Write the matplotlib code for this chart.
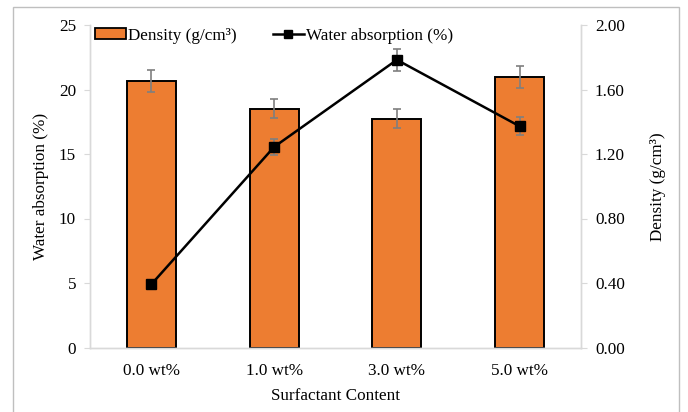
import matplotlib.pyplot as plt
import matplotlib.patches as mpatches
import numpy as np

categories = ['0.0 wt%', '1.0 wt%', '3.0 wt%', '5.0 wt%']
density = [1.65, 1.48, 1.42, 1.68]
density_err = [0.068, 0.058, 0.058, 0.068]
water = [4.9, 15.55, 22.3, 17.15]
water_err = [0.3, 0.63, 0.87, 0.68]

plt.rcParams['font.family'] = ['Liberation Serif', 'DejaVu Serif']
plt.rcParams['font.size'] = 12.3

W, H = 688, 412
fig = plt.figure(figsize=(W / 100, H / 100), dpi=100)
ax = fig.add_axes([90 / W, 1 - 347.5 / H, 491 / W, 322.5 / H])
ax2 = ax.twinx()
x = np.arange(len(categories))

grey = '#d9d9d9'

# density bars (right axis)
ax.bar(x, density, width=0.4, color='#ED7D31', edgecolor='black', linewidth=1.4,
       yerr=density_err, error_kw=dict(ecolor='#7f7f7f', elinewidth=1.2, capsize=3, capthick=1.2),
       label='Density (g/cm³)', zorder=2)
ax.set_ylim(0, 2.0)
ax.set_yticks([0, 0.4, 0.8, 1.2, 1.6, 2.0])
ax.set_yticklabels(['%.2f' % v for v in [0, 0.4, 0.8, 1.2, 1.6, 2.0]])
ax.set_xlim(-0.5, 3.5)
ax.set_xticks(x)
ax.set_xticklabels(categories)
ax.tick_params(axis='x', length=0, pad=11)
ax.set_xlabel('Surfactant Content', labelpad=7)

# water absorption line (left axis)
ax2.errorbar(x, water, yerr=water_err, color='black', linewidth=1.8, marker='s',
             markersize=7, ecolor='#7f7f7f', elinewidth=1.2, capsize=3, capthick=1.2,
             label='Water absorption (%)', zorder=3)
ax2.set_ylim(0, 25)
ax2.set_yticks([0, 5, 10, 15, 20, 25])

# swap sides: density on the right, water absorption on the left
ax.yaxis.tick_right()
ax.yaxis.set_label_position('right')
ax2.yaxis.tick_left()
ax2.yaxis.set_label_position('left')
ax.set_ylabel('Density (g/cm³)', labelpad=18)
ax2.set_ylabel('Water absorption (%)', labelpad=7)
for a in (ax, ax2):
    a.tick_params(axis='y', color=grey, length=4, pad=6)
    a.spines['top'].set_visible(False)
    for s in ('left', 'right', 'bottom'):
        a.spines[s].set_color(grey)
        a.spines[s].set_linewidth(1.0)

bar_handle = mpatches.Patch(facecolor='#ED7D31', edgecolor='black', linewidth=1.3)
line_handle = plt.Line2D([], [], color='black', linewidth=1.8, marker='s', markersize=6)
fig.legend([bar_handle, line_handle], ['Density (g/cm³)', 'Water absorption (%)'],
           loc='center left', bbox_to_anchor=(95 / W, 1 - 35.5 / H), ncol=2, frameon=False,
           borderpad=0, borderaxespad=0, columnspacing=2.1, handlelength=1.8,
           handleheight=0.6, handletextpad=0.15)

# outer chart border
fig.patches.append(mpatches.Rectangle((13 / W, -0.1), 666 / W, 1.1 - 7 / H,
                                      transform=fig.transFigure, fill=False,
                                      edgecolor='#bfbfbf', linewidth=1.0))

fig.savefig('out.png', dpi=100)
